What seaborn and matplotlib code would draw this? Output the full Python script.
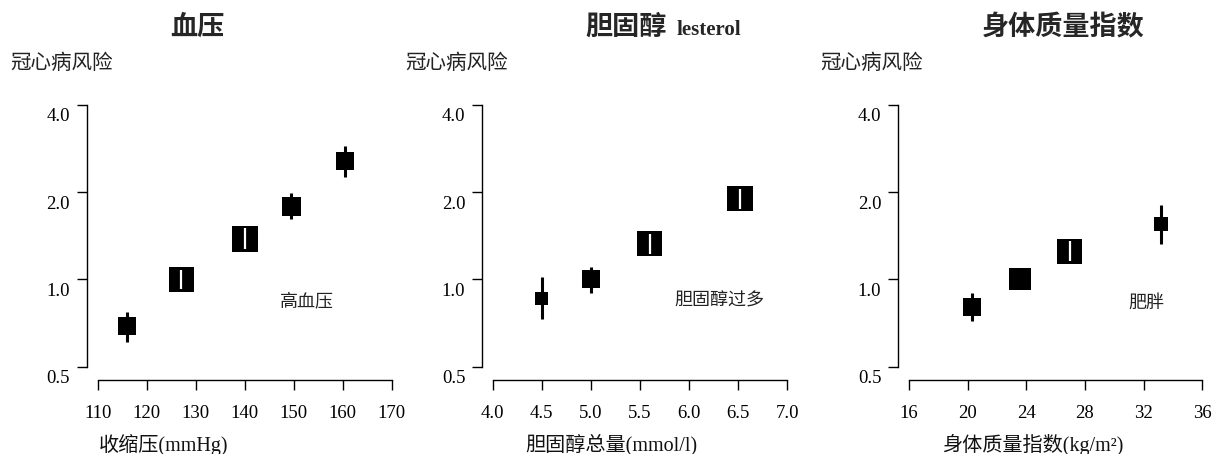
import numpy as np
import pandas as pd
import matplotlib
matplotlib.use("Agg")
import matplotlib.pyplot as plt
import seaborn as sns
from matplotlib.ticker import NullLocator
from matplotlib.transforms import ScaledTranslation

# ---------------- data ----------------
titles = ["血压", "胆固醇", "身体质量指数"]
y_label = "冠心病风险"
x_labels = ["收缩压(mmHg)", "胆固醇总量(mmol/l)", "身体质量指数(kg/m²)"]
notes = ["高血压", "胆固醇过多", "肥胖"]
note_pos = [(152.8, 0.842), (6.31, 0.848), (32.2, 0.831)]

y_ticks = [0.5, 1.0, 2.0, 4.0]
y_ticklabels = ["0.5", "1.0", "2.0", "4.0"]

bp_ticks = [110, 120, 130, 140, 150, 160, 170]
bp_ticklabels = ["110", "120", "130", "140", "150", "160", "170"]
bp_x = [116.0, 127.0, 140.0, 149.5, 160.5]
bp_rr = [0.69, 1.0, 1.38, 1.79, 2.57]
bp_lo = [0.61, 0.925, 1.275, 1.62, 2.26]
bp_hi = [0.775, 1.08, 1.505, 1.98, 2.89]
bp_weight = [18, 25, 26, 19, 18]

ch_ticks = [4.0, 4.5, 5.0, 5.5, 6.0, 6.5, 7.0]
ch_ticklabels = ["4.0", "4.5", "5.0", "5.5", "6.0", "6.5", "7.0"]
ch_x = [4.5, 5.0, 5.6, 6.52]
ch_rr = [0.86, 1.0, 1.33, 1.90]
ch_lo = [0.73, 0.90, 1.225, 1.75]
ch_hi = [1.02, 1.10, 1.44, 2.06]
ch_weight = [13, 18, 25, 25.5]

bmi_ticks = [16, 20, 24, 28, 32, 36]
bmi_ticklabels = ["16", "20", "24", "28", "32", "36"]
bmi_x = [20.3, 23.55, 26.95, 33.2]
bmi_rr = [0.805, 1.0, 1.25, 1.555]
bmi_lo = [0.72, 1.0, 1.155, 1.33]
bmi_hi = [0.895, 1.0, 1.355, 1.80]
bmi_weight = [17.5, 22, 25, 13.5]

# ---------------- style ----------------
sns.set_theme(style="white")
plt.rcParams["font.family"] = ["Liberation Serif", "Noto Sans CJK SC"]
plt.rcParams["axes.unicode_minus"] = False

W, H = 1216, 454
fig = plt.figure(figsize=(W / 100, H / 100), dpi=100)
fig.patch.set_facecolor("white")

panels = [
    dict(x=bp_x, rr=bp_rr, lo=bp_lo, hi=bp_hi, w=bp_weight,
         ticks=bp_ticks, tl=bp_ticklabels, px=(97.7, 391.7), spine_px=87.0),
    dict(x=ch_x, rr=ch_rr, lo=ch_lo, hi=ch_hi, w=ch_weight,
         ticks=ch_ticks, tl=ch_ticklabels, px=(492.7, 787.3), spine_px=482.3),
    dict(x=bmi_x, rr=bmi_rr, lo=bmi_lo, hi=bmi_hi, w=bmi_weight,
         ticks=bmi_ticks, tl=bmi_ticklabels, px=(909.0, 1202.3), spine_px=898.3),
]

top_px, bot_px, xaxis_px = 105.0, 366.7, 380.0
cjk = ["Noto Sans CJK SC", "DejaVu Sans"]
mixed = ["Liberation Serif", "Noto Sans CJK SC"]

axes = []
for i, p in enumerate(panels):
    l, r = p["px"]
    ax = fig.add_axes([l / W, (H - bot_px) / H, (r - l) / W, (bot_px - top_px) / H])
    ax.set_facecolor("none")
    ax.set_yscale("log", base=2)
    ax.set_ylim(y_ticks[0], y_ticks[-1])
    ax.set_xlim(p["ticks"][0], p["ticks"][-1])
    ax.set_yticks(y_ticks)
    ax.set_yticklabels(y_ticklabels)
    ax.yaxis.set_minor_locator(NullLocator())
    ax.set_xticks(p["ticks"])
    ax.set_xticklabels(p["tl"])
    ax.grid(False)
    sns.despine(ax=ax)
    ax.spines["left"].set_position(("outward", (l - p["spine_px"]) * 0.72))
    ax.spines["bottom"].set_position(("outward", (xaxis_px - bot_px) * 0.72))
    for s in ("left", "bottom"):
        ax.spines[s].set_linewidth(1.0)
        ax.spines[s].set_color("black")
    ax.tick_params(axis="both", which="major", direction="out", length=7.2,
                   width=1.0, color="black", labelsize=13.5, labelcolor="black")
    ax.tick_params(axis="y", pad=5.0, left=True)
    ax.tick_params(axis="x", pad=10.5, bottom=True)
    off = ScaledTranslation(0, -10 / 100, fig.dpi_scale_trans)
    for lab in ax.get_yticklabels():
        lab.set_transform(lab.get_transform() + off)

    # error bars (black)
    ax.vlines(p["x"], p["lo"], p["hi"], color="black", lw=2.2, zorder=2)
    # squares sized by weight
    side_pt = np.array(p["w"]) * 0.72
    df = pd.DataFrame({"x": p["x"], "rr": p["rr"]})
    sns.scatterplot(data=df, x="x", y="rr", ax=ax, marker="s", s=side_pt ** 2,
                    color="black", linewidth=0, zorder=3, legend=False)
    ax.set_xlabel("")
    ax.set_ylabel("")
    # white CI line where the interval lies inside the square
    trans = ax.transData
    for xi, r_, lo_, hi_, w_ in zip(p["x"], p["rr"], p["lo"], p["hi"], p["w"]):
        yc = trans.transform((xi, r_))[1]
        ylo = trans.transform((xi, lo_))[1]
        yhi = trans.transform((xi, hi_))[1]
        if yhi > ylo and (yhi - yc) < w_ / 2 and (yc - ylo) < w_ / 2:
            ax.vlines([xi], [lo_], [hi_], color="white", lw=1.6, zorder=4)

    ax.text(note_pos[i][0], note_pos[i][1], notes[i], ha="center", va="center",
            fontsize=13, family=cjk, color="#222222")
    axes.append(ax)

# titles
base_y = 1 - 35 / H
fig.text(197 / W, base_y, titles[0], ha="center", va="baseline", fontsize=19.5,
         fontweight="bold", family=cjk)
fig.text(666.7 / W, base_y, titles[1], ha="right", va="baseline", fontsize=19.5,
         fontweight="bold", family=cjk)
fig.text(676.7 / W, base_y, "lesterol", ha="left", va="baseline", fontsize=15,
         fontweight="bold", family=["Liberation Serif"])
fig.text(1063 / W, base_y, titles[2], ha="center", va="baseline", fontsize=19.5,
         fontweight="bold", family=cjk)

# y labels
for xl in (10, 405, 820.7):
    fig.text(xl / W, 1 - 63 / H, y_label, ha="left", va="center", fontsize=14.8,
             family=cjk, color="#222222")

# x labels
for xc, lab in zip((163.5, 611.7, 1033), x_labels):
    fig.text(xc / W, 1 - 445 / H, lab, ha="center", va="center", fontsize=14.5,
             family=mixed, color="#111111")

fig.savefig("out.png", dpi=100, facecolor="white")
